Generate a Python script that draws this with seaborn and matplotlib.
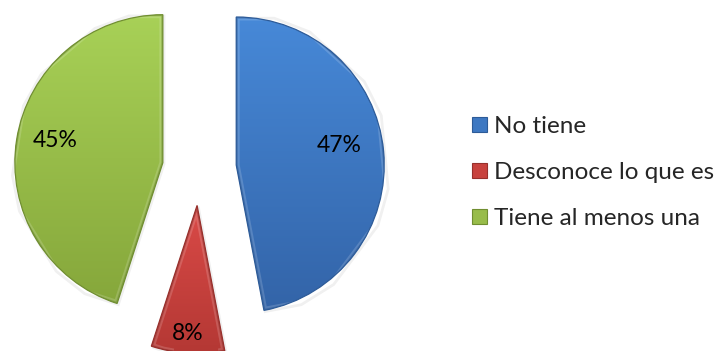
import numpy as np
import matplotlib
matplotlib.use("Agg")
import matplotlib.pyplot as plt
import seaborn as sns
from matplotlib.colors import LinearSegmentedColormap
from matplotlib.patches import Patch

# Survey answers and their shares (percent)
categories = ["No tiene", "Desconoce lo que es", "Tiene al menos una"]
percentages = [47, 8, 45]

# Light (top) / dark (bottom) shades of each slice and its outline
top_colors = ["#4789D8", "#DA4A47", "#A8D157"]
bottom_colors = ["#3364A8", "#B43834", "#86A73B"]
edge_colors = ["#2D5B98", "#97302C", "#708E31"]
mid_colors = ["#3E78C2", "#C8423E", "#98BC4A"]

sns.set_theme(style="white")
plt.rcParams["font.family"] = ["Lato", "DejaVu Sans"]

W, H, DPI = 715, 351, 100
fig = plt.figure(figsize=(W / DPI, H / DPI), dpi=DPI)
ax = fig.add_axes([0, 0, 1, 1])

# pixel scale of one pie radius and where the (unexploded) centre sits
R_PX = 148.0
CX_PX, CY_PX = 199.4, 168.5

wedges, _ = ax.pie(
    percentages,
    startangle=90,
    counterclock=False,
    explode=[0.25] * len(percentages),
    radius=1.0,
    colors=mid_colors,
    wedgeprops=dict(linewidth=1.0),
)

# vertical gradient inside each slice, with a bevelled rim and soft shadow
grad = np.linspace(1, 0, 256).reshape(-1, 1)
for w, c_top, c_bot, c_edge in zip(wedges, top_colors, bottom_colors, edge_colors):
    verts = w.get_path().vertices
    shadow = plt.Polygon(verts + np.array([0.008, -0.008]), closed=True,
                         facecolor="none", edgecolor="#000000", linewidth=2.0,
                         alpha=0.06, zorder=1.5)
    ax.add_patch(shadow)
    w.set_facecolor("none")
    w.set_edgecolor(c_edge)
    w.set_linewidth(0.9)
    w.set_zorder(3)
    ext = w.get_path().get_extents()
    cmap = LinearSegmentedColormap.from_list("g", [c_bot, c_top])
    im = ax.imshow(grad, cmap=cmap, extent=(ext.x0, ext.x1, ext.y0, ext.y1),
                   aspect="auto", zorder=2, interpolation="bilinear")
    im.set_clip_path(w)
    # thin light band just inside the rim
    rim = plt.Polygon(verts, closed=True, fill=False, edgecolor="white",
                      linewidth=5, alpha=0.16, zorder=2.5)
    ax.add_patch(rim)
    rim.set_clip_path(w)
    dark = plt.Polygon(verts, closed=True, fill=False, edgecolor=c_edge,
                       linewidth=2.2, alpha=0.55, zorder=2.6)
    ax.add_patch(dark)
    dark.set_clip_path(w)

# percentage labels placed inside each slice
label_offsets = [(0.71, 5.5), (0.87, -0.5), (0.745, -2.5)]
for w, p, (rf, dang) in zip(wedges, percentages, label_offsets):
    theta = np.deg2rad((w.theta1 + w.theta2) / 2 + dang)
    cx, cy = w.center
    ax.text(cx + rf * np.cos(theta), cy + rf * np.sin(theta), f"{p}%",
            ha="center", va="center", fontsize=16.5, color="black", zorder=5)

ax.set_xlim(-CX_PX / R_PX, (W - CX_PX) / R_PX)
ax.set_ylim((CY_PX - H) / R_PX, CY_PX / R_PX)
ax.set_aspect("auto")
ax.axis("off")

handles = [Patch(facecolor=m, edgecolor=e, linewidth=0.8)
           for m, e in zip(mid_colors, edge_colors)]
fig.legend(handles, categories, loc="upper left",
           bbox_to_anchor=(472 / W, 1 - 116 / H),
           frameon=False, fontsize=17.5, handlelength=0.62, handleheight=0.62,
           handletextpad=0.29, labelspacing=1.03, borderpad=0, borderaxespad=0)

fig.savefig("out.png", dpi=DPI)
